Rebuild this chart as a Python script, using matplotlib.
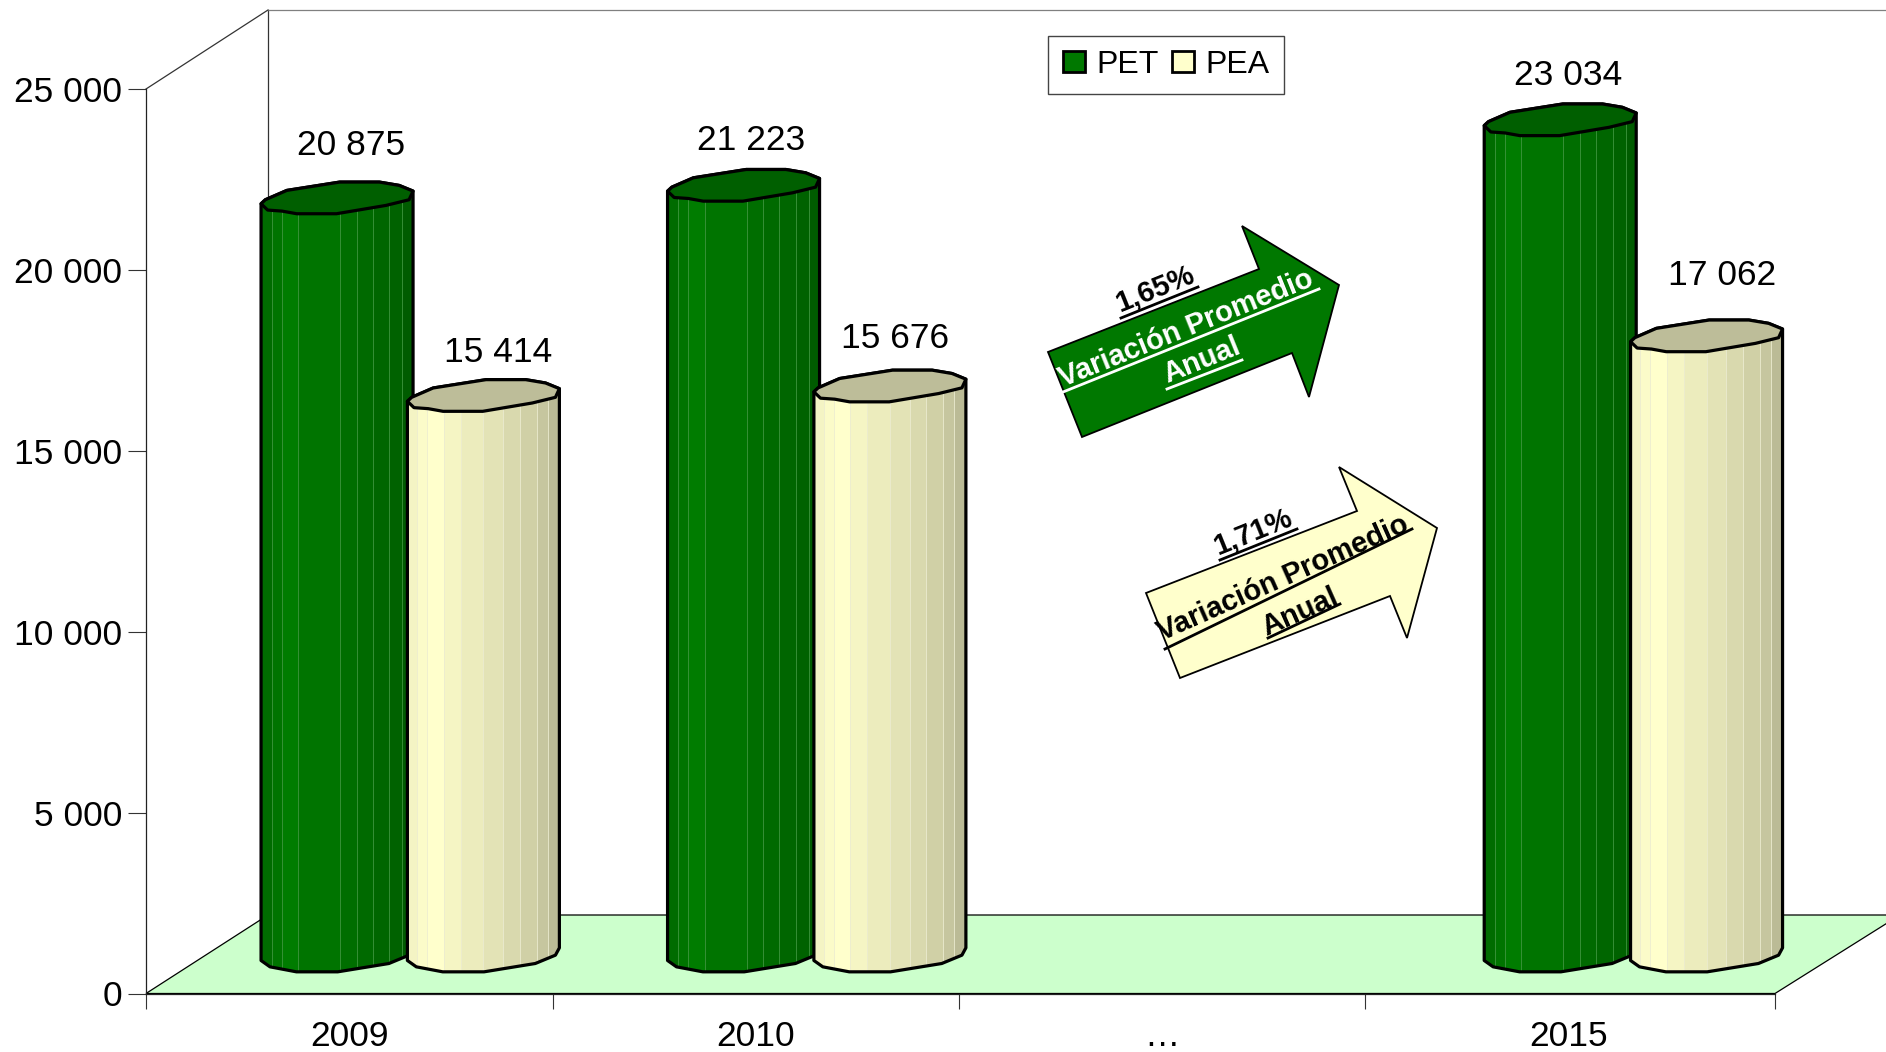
import numpy as np
import matplotlib
matplotlib.use("Agg")
import matplotlib.pyplot as plt
from matplotlib.patches import Polygon, Rectangle
from matplotlib.transforms import Affine2D

categories = ["2009", "2010", "…", "2015"]
pet = [20875, 21223, None, 23034]
pea = [15414, 15676, None, 17062]
y_ticks = [0, 5000, 10000, 15000, 20000, 25000]
pet_label_offsets = [(14, 93), (8, 85), None, (8, 85)]
pea_label_offsets = [(15, 83), (5, 88), None, (16, 101)]

W, H = 1886, 1052
plt.rcParams["font.family"] = ["Liberation Sans", "DejaVu Sans"]
fig = plt.figure(figsize=(W / 100, H / 100), dpi=100, facecolor="white")
L, R, B, T = 146, 1775, 993.5, 89
STEP = 406.5
X_END = (R - L) / STEP
ax = fig.add_axes([L / W, 1 - B / H, (R - L) / W, (B - T) / H], facecolor="none")
ax.set_xlim(0, X_END)
ax.set_ylim(0, 25000)
PX_X = 1 / STEP
PX_Y = 25000 / (B - T)
# top-left pixel coordinates for the decoration that is not data
pix = Affine2D().scale(1 / W, -1 / H).translate(0, 1) + fig.transFigure

# 3D room
ax.add_patch(Polygon([(L, B), (268, 915), (1900, 915), (R, B)], closed=True, transform=pix,
                     fc="#ccffcc", ec="black", lw=0.9, zorder=1, clip_on=False))
for xs, ys, col in [([268, 268], [10, 915], "#333333"), ([268, 1886], [10, 10], "#808080"),
                    ([L, 268], [T, 10], "#333333")]:
    ax.plot(xs, ys, transform=pix, color=col, lw=0.9, zorder=1, clip_on=False)

LOWER = [(0, 0), (20, 19), (63, 22), (108, 30), (228, 30), (378, 5), (448, -12), (460, -38)]
BOTTOM = [(0, 0), (27, 19), (107, 34), (232, 34), (387, 9), (448, -16), (460, -38)]
UPPER = [(418, -55), (358, -65), (238, -65), (78, -40), (13, -12)]
WIDTH_Z = 460

GREEN_EDGES = np.array([0, .07, .135, .245, .52, .63, .735, .845, .93, 1])
GREEN = ["#006c00", "#007400", "#007c00", "#007400", "#006e00", "#006a00", "#006600", "#006200", "#005c00"]
CREAM_EDGES = np.array([0, .065, .13, .24, .35, .5, .63, .74, .85, .925, 1])
CREAM = ["#f4f4c4", "#fbfbc9", "#ffffcc", "#f5f5c4", "#ececbd", "#e3e3b6", "#d9d9ae", "#d0d0a6", "#c6c69f", "#bbbb96"]


def cylinder(center, value, colors, edges, cap, shine, z):
    width = 152 * PX_X
    left = center - width / 2
    def pt(p, base, lift):
        return (left + p[0] / WIDTH_Z * width, base + lift * PX_Y - p[1] / 3 * PX_Y)
    top_low = [pt(p, value, 34.5) for p in LOWER]
    top_up = [pt(p, value, 34.5) for p in UPPER]
    bot_low = [pt(p, 0, 33) for p in BOTTOM]
    body = [top_low[0]] + top_up[::-1] + [top_low[-1]] + bot_low[::-1]
    outline = Polygon(body, closed=True, fc="none", ec="black", lw=2.3, zorder=z + 2,
                      clip_on=False, joinstyle="round")
    ax.add_patch(outline)
    rgb = np.array([[matplotlib.colors.to_rgb(c) for c in colors]])
    mesh = ax.pcolormesh(left + edges * width, [0, value + 3000], rgb, zorder=z, shading="flat",
                         linewidth=0, rasterized=True)
    mesh.set_clip_box(fig.bbox)
    mesh.set_clip_path(outline)
    vl = ax.vlines(left + edges[1:-1] * width, 0, value + 3000, color=shine, lw=0.6, zorder=z + 1)
    vl.set_clip_box(fig.bbox)
    vl.set_clip_path(outline)
    ax.add_patch(Polygon(top_low + top_up, closed=True, fc=cap, ec="black", lw=2.3, zorder=z + 3,
                         clip_on=False, joinstyle="round"))


PET_POS, PEA_POS = 0.47, 0.83
GROUP_SHIFT = [0, 0, 0, 0.009]
z = 5
for i in range(len(categories)):
    if pet[i] is None:
        continue
    x0 = i + GROUP_SHIFT[i]
    cylinder(x0 + PET_POS, pet[i], GREEN, GREEN_EDGES, "#005f00", "#3f963f", z)
    z += 5
    cylinder(x0 + PEA_POS, pea[i], CREAM, CREAM_EDGES, "#bdbd99", "#ececd0", z)
    z += 5
    for pos, val, off in [(x0 + PET_POS, pet[i], pet_label_offsets[i]),
                          (x0 + PEA_POS, pea[i], pea_label_offsets[i])]:
        ax.annotate(f"{val:,}".replace(",", " "), (pos, val), xytext=off,
                    textcoords="offset pixels", ha="center", va="center",
                    fontsize=25.5, color="black", annotation_clip=False, zorder=100)

# axes
for s in ("top", "right"):
    ax.spines[s].set_visible(False)
for s in ("left", "bottom"):
    ax.spines[s].set_linewidth(0.9)
    ax.spines[s].set_color("#222222")
    ax.spines[s].set_zorder(2)
ax.set_yticks(y_ticks)
ax.set_yticklabels([f"{v:,}".replace(",", " ") for v in y_ticks], fontsize=25.5)
ax.tick_params(axis="y", length=13, width=0.8, pad=4, color="#333333")
ax.set_xticks([0, 1, 2, 3, X_END])
ax.set_xticklabels([])
ax.tick_params(axis="x", which="major", length=11, width=0.8, color="#333333")
ax.set_xticks(np.arange(len(categories)) + 0.5, labels=categories, minor=True, fontsize=25.5)
ax.tick_params(axis="x", which="minor", length=0, pad=37.5)
for t in ax.get_xticklabels(minor=True):
    t.set_va("baseline")

# legend
handles = [Rectangle((0, 0), 1, 1, fc="#007800", ec="black", lw=2, label="PET"),
           Rectangle((0, 0), 1, 1, fc="#ffffcc", ec="black", lw=2, label="PEA")]
leg = fig.legend(handles=handles, ncol=2, loc="center", bbox_to_anchor=(1166 / W, 1 - 65 / H),
                 fontsize=23, frameon=True, fancybox=False, framealpha=1, edgecolor="#444444",
                 handlelength=0.68, handleheight=0.62, handletextpad=0.36, columnspacing=0.42,
                 borderpad=0.45, borderaxespad=0)
leg.get_frame().set_linewidth(1.0)
leg.set_zorder(50)

# annotation arrows
arrows = [
    ([(1048, 352), (1259, 269), (1242, 226), (1339, 285), (1309, 397), (1292, 353), (1082, 437)], "#007800",
     "white", 22, [("Variación Promedio", 1186, 329, (1063, 392), (1319, 289)),
                   ("Anual", 1202, 360, (1167, 389), (1242, 360))],
     ("1,65%", 1155, 289, (1121, 318), (1198, 287))),
    ([(1146, 593), (1357, 511), (1339, 467), (1437, 528), (1407, 638), (1390, 596), (1180, 678)], "#ffffcc",
     "black", 24, [("Variación Promedio", 1283, 578, (1165, 649), (1412, 529)),
                   ("Anual", 1300, 612, (1268, 638), (1340, 604))],
     ("1,71%", 1253, 532, (1220, 560), (1297, 529))),
]
for verts, fc, tc, rot, lines, pct in arrows:
    fig.add_artist(Polygon(verts, closed=True, transform=pix, fc=fc, ec="black", lw=1.3, zorder=60))
    for txt, x, y, u0, u1 in lines:
        fig.text(x, y, txt, transform=pix, rotation=rot, rotation_mode="anchor", ha="center", va="center",
                 fontsize=21, fontweight="bold", color=tc, zorder=61)
        fig.add_artist(plt.Line2D([u0[0], u1[0]], [u0[1], u1[1]], transform=pix, color=tc, lw=2, zorder=61))
    txt, x, y, u0, u1 = pct
    fig.text(x, y, txt, transform=pix, rotation=22, rotation_mode="anchor", ha="center", va="center",
             fontsize=21, fontweight="bold", color="black", zorder=61)
    fig.add_artist(plt.Line2D([u0[0], u1[0]], [u0[1], u1[1]], transform=pix, color="black", lw=2, zorder=61))

ax.set_xlim(0, X_END)
ax.set_ylim(0, 25000)
fig.savefig("out.png", dpi=100, facecolor="white")
